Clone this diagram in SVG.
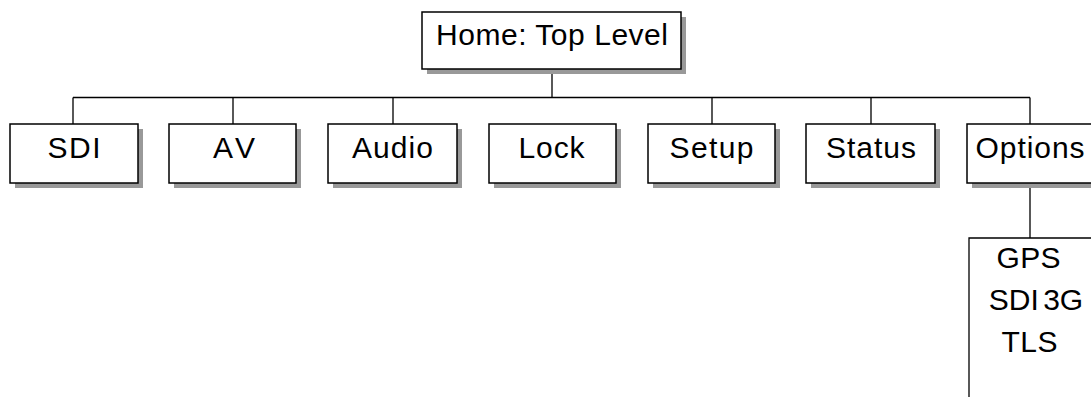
<svg xmlns="http://www.w3.org/2000/svg" width="1091" height="397" viewBox="0 0 1091 397">
<style>
.box{fill:#fff;stroke:#000;stroke-width:1.5}
.sh{fill:#999}
.t{font-family:"Liberation Sans",Arial,sans-serif;font-size:30px;fill:#000;text-anchor:middle}
.c{fill:none;stroke:#000;stroke-width:1.3}
</style>
<rect width="1091" height="397" fill="#fff"/>
<g id="connectors">
<path class="c" d="M552,69V97.5M73,97.5H1030M73,97.5V124M233,97.5V124M393,97.5V124M712,97.5V124M871,97.5V124M1030,97.5V124M1030,183V238"/>
</g>
<g id="home">
<rect class="sh" x="427" y="17" width="259" height="57"/>
<rect class="box" x="422" y="12" width="259" height="57"/>
<text class="t" x="552" y="45" textLength="232" lengthAdjust="spacing">Home: Top Level</text>
</g>
<g id="sdi">
<rect class="sh" x="15" y="129" width="128" height="59"/>
<rect class="box" x="10" y="124" width="128" height="59"/>
<text class="t" x="74" y="158" textLength="53" lengthAdjust="spacing">SDI</text>
</g>
<g id="av">
<rect class="sh" x="174" y="129" width="127" height="59"/>
<rect class="box" x="169" y="124" width="127" height="59"/>
<text class="t" x="234" y="158" textLength="42" lengthAdjust="spacing">AV</text>
</g>
<g id="audio">
<rect class="sh" x="333" y="129" width="129" height="59"/>
<rect class="box" x="328" y="124" width="129" height="59"/>
<text class="t" x="392.5" y="158" textLength="81" lengthAdjust="spacing">Audio</text>
</g>
<g id="lock">
<rect class="sh" x="494" y="129" width="127" height="59"/>
<rect class="box" x="489" y="124" width="127" height="59"/>
<text class="t" x="551.5" y="158" textLength="66" lengthAdjust="spacing">Lock</text>
</g>
<g id="setup">
<rect class="sh" x="653" y="129" width="127" height="59"/>
<rect class="box" x="648" y="124" width="127" height="59"/>
<text class="t" x="711.5" y="158" textLength="84" lengthAdjust="spacing">Setup</text>
</g>
<g id="status">
<rect class="sh" x="811" y="129" width="129" height="59"/>
<rect class="box" x="806" y="124" width="129" height="59"/>
<text class="t" x="871" y="158" textLength="90" lengthAdjust="spacing">Status</text>
</g>
<g id="options">
<rect class="sh" x="972" y="129" width="130" height="59"/>
<rect class="box" x="967" y="124" width="130" height="59"/>
<text class="t" x="1030" y="158" textLength="109" lengthAdjust="spacing">Options</text>
</g>
<g id="options-list">
<path class="c" d="M969,397V238H1095" stroke-width="1.5"/>
<text class="t" x="1028.5" y="268" textLength="64" lengthAdjust="spacing">GPS</text>
<text class="t" x="1036" y="310" font-size="29" word-spacing="-4">SDI 3G</text>
<text class="t" x="1029.5" y="352" textLength="56" lengthAdjust="spacing">TLS</text>
</g>
</svg>
